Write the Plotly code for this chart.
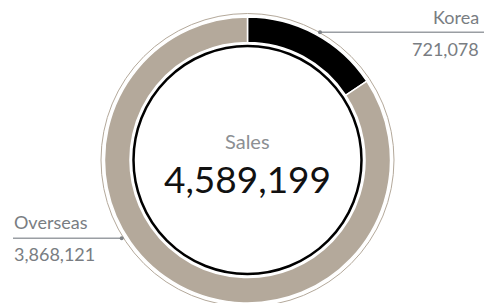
import math
import plotly.graph_objects as go

# ---- data ----
categories = ["Korea", "Overseas"]
values = [721078, 3868121]
value_labels = ["721,078", "3,868,121"]
center_title = "Sales"
center_value = "4,589,199"

# ---- styling / layout ----
W, H = 484, 303
colors = ["#000000", "#b4a99b"]
FONT = "Lato, 'Noto Sans', sans-serif"
LABEL_GRAY = "#797d82"
LINE_GRAY = "#9a9ea3"

cx, cy = 247.5, 160.0        # pie centre in pixels (from top-left)
r_out = 143.0
r_in = 117.5
r_black = 114.0
r_thin = 146.5


def px(x):
    return x / W


def py(y):
    return 1 - y / H


fig = go.Figure()
fig.add_trace(go.Pie(
    labels=categories,
    values=values,
    sort=False,
    direction="clockwise",
    rotation=0,
    hole=r_in / r_out,
    marker=dict(colors=colors, line=dict(color="#ffffff", width=1.5)),
    textinfo="none",
    hoverinfo="label+value",
    showlegend=False,
    domain=dict(x=[px(cx - r_out), px(cx + r_out)], y=[py(cy + r_out), py(cy - r_out)]),
))

shapes = [
    # thin outer circle
    dict(type="circle", xref="paper", yref="paper",
         x0=px(cx - r_thin), x1=px(cx + r_thin), y0=py(cy + r_thin), y1=py(cy - r_thin),
         line=dict(color="#b4a99b", width=1)),
    # inner black circle
    dict(type="circle", xref="paper", yref="paper",
         x0=px(cx - r_black), x1=px(cx + r_black), y0=py(cy + r_black), y1=py(cy - r_black),
         line=dict(color="#000000", width=2.5)),
]

# leader lines (layout positions)
leaders = [
    dict(dot=(320.0, 32.3), end=(W, 32.3)),
    dict(dot=(121.7, 238.3), end=(13.0, 238.3)),
]
for ld in leaders:
    (x0, y0), (x1, y1) = ld["dot"], ld["end"]
    shapes.append(dict(type="line", xref="paper", yref="paper",
                       x0=px(x0), y0=py(y0), x1=px(x1), y1=py(y1),
                       line=dict(color=LINE_GRAY, width=1.5)))
    shapes.append(dict(type="circle", xref="paper", yref="paper",
                       x0=px(x0 - 2), x1=px(x0 + 2), y0=py(y0 + 2), y1=py(y0 - 2),
                       fillcolor="#7f8387", line=dict(width=0)))

annotations = [
    dict(text=center_title, x=px(cx), y=py(141), xanchor="center", yanchor="middle",
         font=dict(family=FONT, size=20, color="#8c8f93")),
    dict(text=center_value, x=px(cx), y=py(178), xanchor="center", yanchor="middle",
         font=dict(family=FONT, size=37, color="#111111")),
    # Korea
    dict(text=categories[0], x=px(481), y=py(17.5), xanchor="right", yanchor="middle",
         font=dict(family=FONT, size=18, color=LABEL_GRAY)),
    dict(text=value_labels[0], x=px(481), y=py(48.5), xanchor="right", yanchor="middle",
         font=dict(family=FONT, size=18, color=LABEL_GRAY)),
    # Overseas
    dict(text=categories[1], x=px(12), y=py(221.5), xanchor="left", yanchor="middle",
         font=dict(family=FONT, size=18, color=LABEL_GRAY)),
    dict(text=value_labels[1], x=px(12), y=py(254), xanchor="left", yanchor="middle",
         font=dict(family=FONT, size=18, color=LABEL_GRAY)),
]
for a in annotations:
    a.update(xref="paper", yref="paper", showarrow=False)

fig.update_layout(
    width=W, height=H,
    margin=dict(l=0, r=0, t=0, b=0),
    paper_bgcolor="#ffffff", plot_bgcolor="#ffffff",
    shapes=shapes, annotations=annotations,
)

fig.write_html("out.html", config=dict(displayModeBar=False),
               post_script="document.body.style.margin='0';document.body.style.overflow='hidden';")
